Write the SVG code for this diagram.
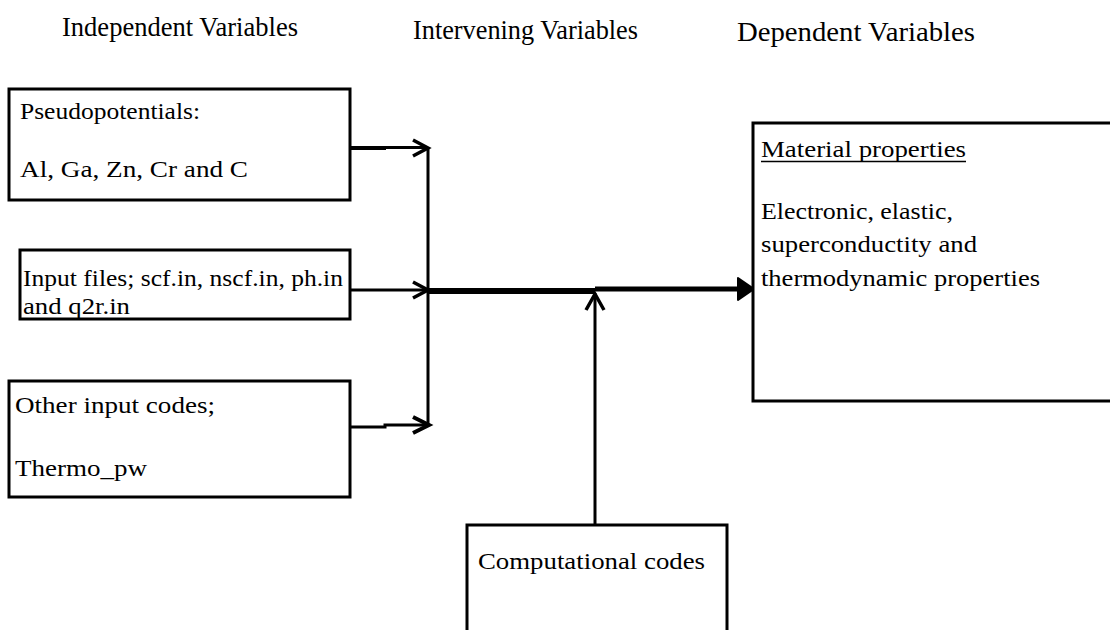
<svg xmlns="http://www.w3.org/2000/svg" width="1110" height="630" viewBox="0 0 1110 630">
<style>
text{font-family:'Liberation Serif',Tinos,serif;fill:#000}
.hd{font-size:27px}
.t{font-size:23px}
.r{font-size:24px}
.box{fill:#fff;stroke:#000;stroke-width:3}
.ln{fill:none;stroke:#000;stroke-linecap:butt}
.head{fill:none;stroke:#000;stroke-linejoin:miter}
</style>
<rect width="1110" height="630" fill="#fff"/>
<g id="headers">
<text class="hd" x="62" y="36" textLength="236" lengthAdjust="spacingAndGlyphs">Independent Variables</text>
<text class="hd" x="413" y="39" textLength="225" lengthAdjust="spacingAndGlyphs">Intervening Variables</text>
<text class="hd" x="737" y="41" textLength="238" lengthAdjust="spacingAndGlyphs">Dependent Variables</text>
</g>
<g id="connectors">
<path class="ln" d="M350 148 H386" style="stroke-width:4"/>
<path class="ln" d="M386 147.5 H428" style="stroke-width:3"/>
<path class="head" d="M413 140 L428 148 L413 156" style="stroke-width:3.5"/>
<path class="ln" d="M428 147 V426" style="stroke-width:3"/>
<path class="ln" d="M350 290 H428" style="stroke-width:3"/>
<path class="head" d="M413 282 L428 290 L413 298" style="stroke-width:3.5"/>
<path class="ln" d="M350 427 H385 V425 H428" style="stroke-width:3"/>
<path class="head" d="M413 417 L429 425 L413 433" style="stroke-width:4"/>
<path class="ln" d="M428 291 H595" style="stroke-width:6"/>
<path class="ln" d="M595 289 H742" style="stroke-width:5"/>
<path d="M738 278 L754 289 L738 300 Z" fill="#000" stroke="#000" stroke-width="2" stroke-linejoin="round"/>
<path class="ln" d="M595 526 V293" style="stroke-width:3"/>
<path class="head" d="M586 310 L595 294 L604 310" style="stroke-width:3.5"/>
</g>
<g id="pseudopotentials">
<rect class="box" x="9" y="89" width="341" height="111"/>
<text class="t" x="20" y="119" textLength="180" lengthAdjust="spacingAndGlyphs">Pseudopotentials:</text>
<text class="t" x="20" y="177" textLength="228" lengthAdjust="spacingAndGlyphs">Al, Ga, Zn, Cr and C</text>
</g>
<g id="input-files">
<rect class="box" x="20" y="250" width="330" height="69"/>
<text class="t" x="23" y="286" textLength="320" lengthAdjust="spacingAndGlyphs">Input files; scf.in, nscf.in, ph.in</text>
<text class="t" x="23" y="314" textLength="107" lengthAdjust="spacingAndGlyphs">and q2r.in</text>
</g>
<g id="other-input">
<rect class="box" x="9" y="381" width="341" height="116"/>
<text class="t" x="15" y="413" textLength="200" lengthAdjust="spacingAndGlyphs">Other input codes;</text>
<text class="t" x="15" y="476" textLength="132" lengthAdjust="spacingAndGlyphs">Thermo_pw</text>
</g>
<g id="computational">
<rect class="box" x="467" y="525" width="260" height="120"/>
<text class="t" x="478" y="569" textLength="227" lengthAdjust="spacingAndGlyphs">Computational codes</text>
</g>
<g id="material">
<rect class="box" x="753" y="123" width="370" height="278"/>
<text class="r" x="761" y="157" textLength="205" lengthAdjust="spacingAndGlyphs">Material properties</text>
<line x1="761" y1="161.5" x2="966" y2="161.5" stroke="#000" stroke-width="1.5"/>
<text class="r" x="761" y="219" textLength="192" lengthAdjust="spacingAndGlyphs">Electronic, elastic,</text>
<text class="r" x="761" y="252" textLength="216" lengthAdjust="spacingAndGlyphs">superconductity and</text>
<text class="r" x="761" y="286" textLength="279" lengthAdjust="spacingAndGlyphs">thermodynamic properties</text>
</g>
</svg>
